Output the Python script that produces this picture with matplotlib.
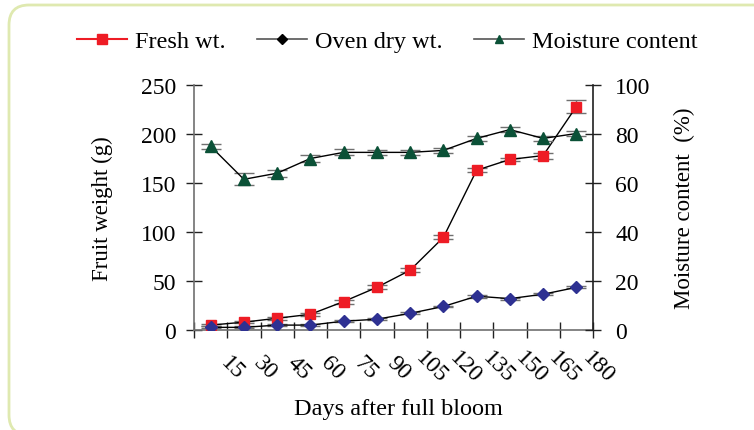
import matplotlib
matplotlib.use("Agg")
import matplotlib.pyplot as plt
from matplotlib.lines import Line2D
from matplotlib.patches import FancyBboxPatch
from matplotlib import transforms
import numpy as np

plt.rcParams['font.family'] = ['Liberation Serif', 'DejaVu Serif']

days = [15, 30, 45, 60, 75, 90, 105, 120, 135, 150, 165, 180]
fresh_wt = [5, 8, 12, 16, 29, 43.5, 61, 94.5, 163, 174, 178, 228]
fresh_err = [1, 1, 1.5, 1.5, 2, 2, 2, 2, 2, 2, 3, 7]
dry_wt = [2.7, 2.7, 5, 5, 9, 11, 17, 24, 34.5, 32, 36.5, 43.5]
dry_err = [1, 1, 1, 1, 1, 1, 1, 1, 1.5, 1, 1, 1]
moisture = [75, 61.5, 64, 70, 72.5, 72.5, 72.5, 73.3, 78.2, 81.8, 78.2, 80.2]
moist_err = [1, 2.5, 1.5, 1.5, 1.2, 1, 1, 1, 1, 1, 1, 1]

fig = plt.figure(figsize=(7.54, 4.31), dpi=100)

# rounded border
border = FancyBboxPatch((9, -5), 800, 430, boxstyle="round,pad=0,rounding_size=20",
                        transform=None, facecolor='none', edgecolor='#dfe9b0',
                        linewidth=2, zorder=0)
fig.patches.append(border)

ax = fig.add_axes([194/754, 1-331/431, (593-194)/754, (331-86)/431])
ax2 = ax.twinx()

x = np.arange(len(days)) + 0.5

ecol = '#707070'
ax.errorbar(x, fresh_wt, yerr=fresh_err, color='black', lw=1, marker='s', ms=7.5,
            mfc='#ee1c25', mec='#ee1c25', ecolor=ecol, elinewidth=1, capsize=7,
            capthick=1, zorder=3)
ax.errorbar(x, dry_wt, yerr=dry_err, color='black', lw=1, marker='D', ms=6.5,
            mfc='#2e3192', mec='#2e3192', ecolor=ecol, elinewidth=1, capsize=7,
            capthick=1, zorder=3)
ax2.errorbar(x, moisture, yerr=moist_err, color='black', lw=1, marker='^', ms=9,
             mfc='#0b5137', mec='#0b5137', ecolor=ecol, elinewidth=1, capsize=7,
             capthick=1, zorder=3)

ax.set_xlim(0, 12)
ax.set_ylim(0, 250)
ax2.set_ylim(0, 100)
ax.set_yticks(np.arange(0, 251, 50))
ax2.set_yticks(np.arange(0, 101, 20))
ax.set_xticks(np.arange(0, 13))
ax.set_xticklabels([])

lbl_tr = transforms.blended_transform_factory(ax.transData, ax.transAxes)
for i, d in enumerate(days):
    ax.text(i + 1 + 0.15, -37/245, str(d), rotation=-45, rotation_mode='anchor',
            ha='center', va='center', fontsize=17, transform=lbl_tr,
            clip_on=False)

for a in (ax, ax2):
    a.spines['top'].set_visible(False)
    a.tick_params(labelsize=17, direction='inout', length=12, width=1, color='#222222')
ax.spines['right'].set_visible(False)
ax2.spines['left'].set_visible(False)
ax2.spines['bottom'].set_visible(False)
for s in ('left', 'bottom'):
    ax.spines[s].set_color('#707070')
    ax.spines[s].set_linewidth(1.2)
ax2.spines['right'].set_color('#202020')
ax2.spines['right'].set_linewidth(1.2)
ax.tick_params(axis='x', length=11)
ax.tick_params(axis='y', pad=7)
ax2.tick_params(axis='y', pad=10)

ax.set_ylabel('Fruit weight (g)', fontsize=16.5)
ax.yaxis.label.set_va('center')
ax.yaxis.set_label_coords((102-194)/399, 0.5)
ax2.set_ylabel('Moisture content  (%)', fontsize=16.5)
ax2.yaxis.label.set_va('center')
ax2.yaxis.set_label_coords((684-194)/399, 0.5)
ax.set_xlabel('Days after full bloom', fontsize=17.5)
ax.xaxis.label.set_va('center')
ax.xaxis.set_label_coords((398-194)/399, -(410-331)/245)

handles = [
    Line2D([], [], color='#ee1c25', lw=1.5, marker='s', ms=7, mfc='#ee1c25', mec='#ee1c25'),
    Line2D([], [], color='#555555', lw=1.2, marker='D', ms=5, mfc='black', mec='black'),
    Line2D([], [], color='#555555', lw=1.2, marker='^', ms=6, mfc='#0b5137', mec='#0b5137'),
]
fig.legend(handles, ['Fresh wt.', 'Oven dry wt.', 'Moisture content'], loc='center',
           bbox_to_anchor=(387/754, 1-42/431), ncol=3, frameon=False, fontsize=17.5,
           handlelength=2.05, handletextpad=0.33, columnspacing=1.3, borderpad=0)

fig.savefig('out.png', dpi=100)
